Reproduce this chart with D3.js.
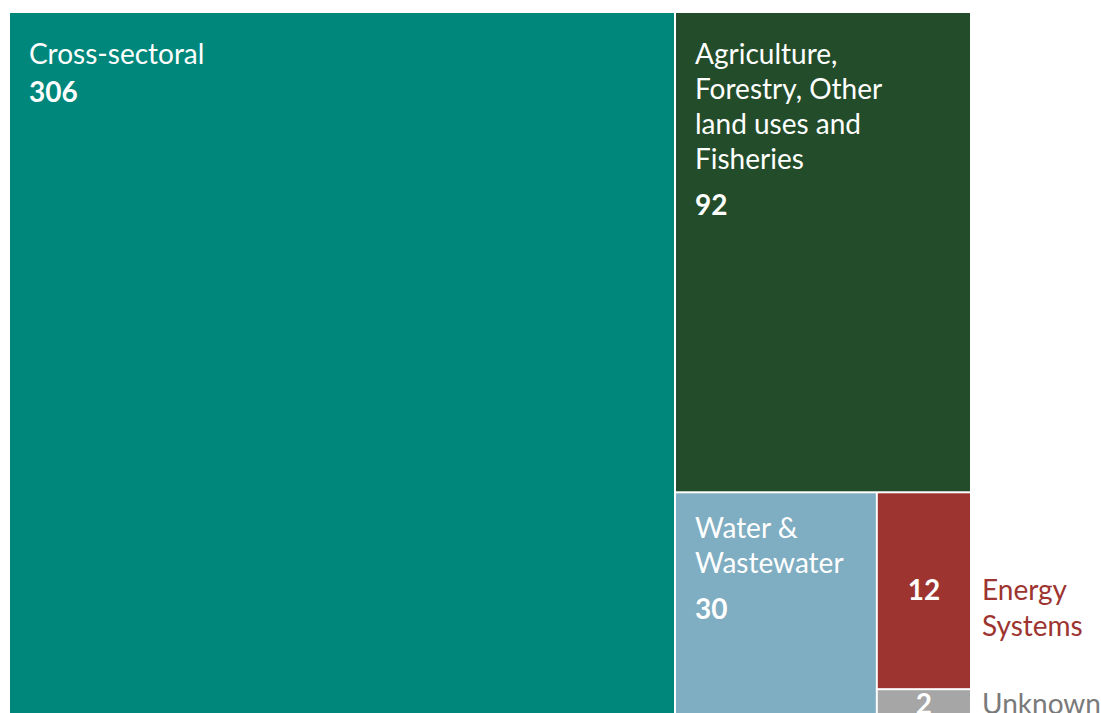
<!DOCTYPE html>
<html>
<head>
<meta charset="utf-8">
<script src="https://cdn.jsdelivr.net/npm/d3@7"></script>
<style>
  body { margin: 0; background: #fff; }
  svg { display: block; font-family: Lato, "Open Sans", sans-serif; }
</style>
</head>
<body>
<div id="chart"></div>
<script>
// sectors and counts
const sectors = ["Cross-sectoral", "Agriculture, Forestry, Other land uses and Fisheries", "Water & Wastewater", "Energy Systems", "Unknown"];
const counts = [306, 92, 30, 12, 2];
const colors = ["#00877b", "#234d2a", "#7fadc1", "#9d3430", "#a6a6a6"];
// how each label is broken into lines
const labelLines = [
  ["Cross-sectoral"],
  ["Agriculture,", "Forestry, Other", "land uses and", "Fisheries"],
  ["Water &", "Wastewater"],
  ["Energy", "Systems"],
  ["Unknown"]
];
// labels of small boxes sit outside, to the right
const outsideLabel = [false, false, false, true, true];
const outsideColor = [null, null, null, "#9d3430", "#7a7a7a"];

const W = 1101, H = 713;
const marginLeft = 10, marginTop = 13, mapW = 960, mapH = 708;

const svg = d3.select("#chart").append("svg")
    .attr("width", W)
    .attr("height", H);

const data = sectors.map((s, i) => ({name: s, value: counts[i], color: colors[i], lines: labelLines[i], outside: outsideLabel[i], labelColor: outsideColor[i]}));

const root = d3.hierarchy({children: data})
    .sum(d => d.value || 0)
    .sort((a, b) => b.value - a.value);

d3.treemap()
    .tile(d3.treemapSquarify)
    .size([mapW, mapH])
    .paddingInner(2)
    .round(false)(root);

const g = svg.append("g").attr("transform", "translate(" + marginLeft + "," + marginTop + ")");

const cell = g.selectAll("g.cell")
    .data(root.leaves())
    .enter().append("g")
    .attr("class", "cell")
    .attr("transform", d => "translate(" + d.x0 + "," + d.y0 + ")");

cell.append("rect")
    .attr("width", d => d.x1 - d.x0)
    .attr("height", d => d.y1 - d.y0)
    .attr("fill", d => d.data.color);

const fs = 28, lh = 35;

// inside labels
cell.filter(d => !d.data.outside).each(function (d) {
    const sel = d3.select(this);
    const firstBase = d.data.lines.length > 1 && d.y0 > 100 ? 45 : 51;
    d.data.lines.forEach((line, i) => {
        sel.append("text")
            .attr("x", 19)
            .attr("y", firstBase + i * lh)
            .attr("fill", "#fff")
            .attr("font-size", fs + "px")
            .text(line);
    });
    const lastBase = firstBase + (d.data.lines.length - 1) * lh;
    sel.append("text")
        .attr("x", 19)
        .attr("y", lastBase + (d.data.lines.length > 1 ? 46 : 38))
        .attr("fill", "#fff")
        .attr("font-size", fs + "px")
        .attr("font-weight", "bold")
        .text(d.data.value);
});

// small boxes: number centred, label beside
cell.filter(d => d.data.outside).each(function (d) {
    const sel = d3.select(this);
    const w = d.x1 - d.x0, h = d.y1 - d.y0;
    const base = h > 60 ? h / 2 + 9 : 24;
    sel.append("text")
        .attr("x", w / 2)
        .attr("y", base)
        .attr("text-anchor", "middle")
        .attr("fill", "#fff")
        .attr("font-size", fs + "px")
        .attr("font-weight", "bold")
        .text(d.data.value);
    d.data.lines.forEach((line, i) => {
        sel.append("text")
            .attr("x", w + 12)
            .attr("y", base + i * 36)
            .attr("fill", d.data.labelColor)
            .attr("font-size", fs + "px")
            .text(line);
    });
});
</script>
</body>
</html>
